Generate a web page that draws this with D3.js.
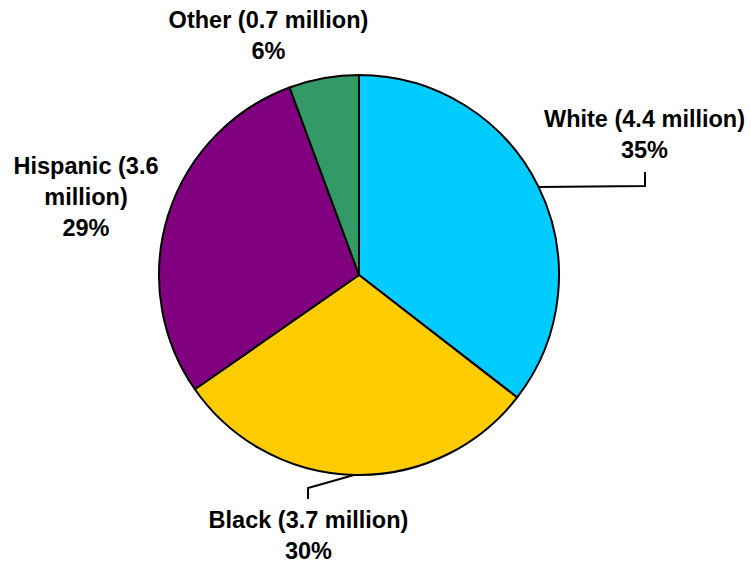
<!DOCTYPE html>
<html>
<head>
<meta charset="utf-8">
<script src="https://cdn.jsdelivr.net/npm/d3@7"></script>
<style>
  body { margin: 0; background: #fff; }
  .slice-label { font-family: "Liberation Sans", Arial, sans-serif; font-weight: bold; font-size: 23.5px; fill: #000; }
  .leader { fill: none; stroke: #000; stroke-width: 2; }
</style>
</head>
<body>
<div id="chart"></div>
<script>
// Data
const groups = ['White', 'Black', 'Hispanic', 'Other'];
const millions = [4.4, 3.7, 3.6, 0.7];
const percentLabels = ['35%', '30%', '29%', '6%'];
const colors = ['#00CCFF', '#FFCC00', '#800080', '#339966'];

const width = 751, height = 572;
const cx = 359, cy = 275, radius = 200;

// Label layout (offsets from pie centre) – positions only, not data
const labelLayout = {
  White:    { x: 285.5, y: -148, lines: d => [`White (${d.m} million)`, d.p], leader: [[286, -89], [286, -103]] },
  Black:    { x: -50.5, y: 253,  lines: d => [`Black (${d.m} million)`, d.p], leader: [[-51, 213], [-51, 224]] },
  Hispanic: { x: -273, y: -101, lines: d => [`Hispanic (${d.m}`, 'million)', d.p], leader: null },
  Other:    { x: -90.5, y: -247, lines: d => [`Other (${d.m} million)`, d.p], leader: null }
};
const lineHeight = 31;

const data = groups.map((g, i) => ({ group: g, m: millions[i].toFixed(1), value: millions[i], p: percentLabels[i], color: colors[i] }));

const svg = d3.select('#chart').append('svg')
    .attr('width', width)
    .attr('height', height);

const g = svg.append('g')
    .attr('transform', `translate(${cx},${cy})`);

const pie = d3.pie()
    .sort(null)
    .value(d => d.value);

const arc = d3.arc()
    .innerRadius(0)
    .outerRadius(radius);

const arcs = pie(data);

g.selectAll('.slice')
    .data(arcs)
  .join('path')
    .attr('class', 'slice')
    .attr('d', arc)
    .attr('fill', d => d.data.color)
    .attr('stroke', '#000')
    .attr('stroke-width', 2)
    .attr('stroke-linejoin', 'round');

// Leader lines start at the outer edge at the slice mid angle
arcs.forEach(a => {
  const lay = labelLayout[a.data.group];
  if (!lay.leader) return;
  const mid = (a.startAngle + a.endAngle) / 2;
  const start = [Math.sin(mid) * radius, -Math.cos(mid) * radius];
  g.append('path')
      .attr('class', 'leader')
      .attr('d', d3.line()([start, ...lay.leader]));
});

// Labels
arcs.forEach(a => {
  const lay = labelLayout[a.data.group];
  const lines = lay.lines(a.data);
  const t = g.append('text')
      .attr('class', 'slice-label')
      .attr('text-anchor', 'middle')
      .attr('x', lay.x)
      .attr('y', lay.y);
  lines.forEach((l, i) => {
    t.append('tspan')
        .attr('x', lay.x)
        .attr('dy', i === 0 ? 0 : lineHeight)
        .text(l);
  });
});
</script>
</body>
</html>
